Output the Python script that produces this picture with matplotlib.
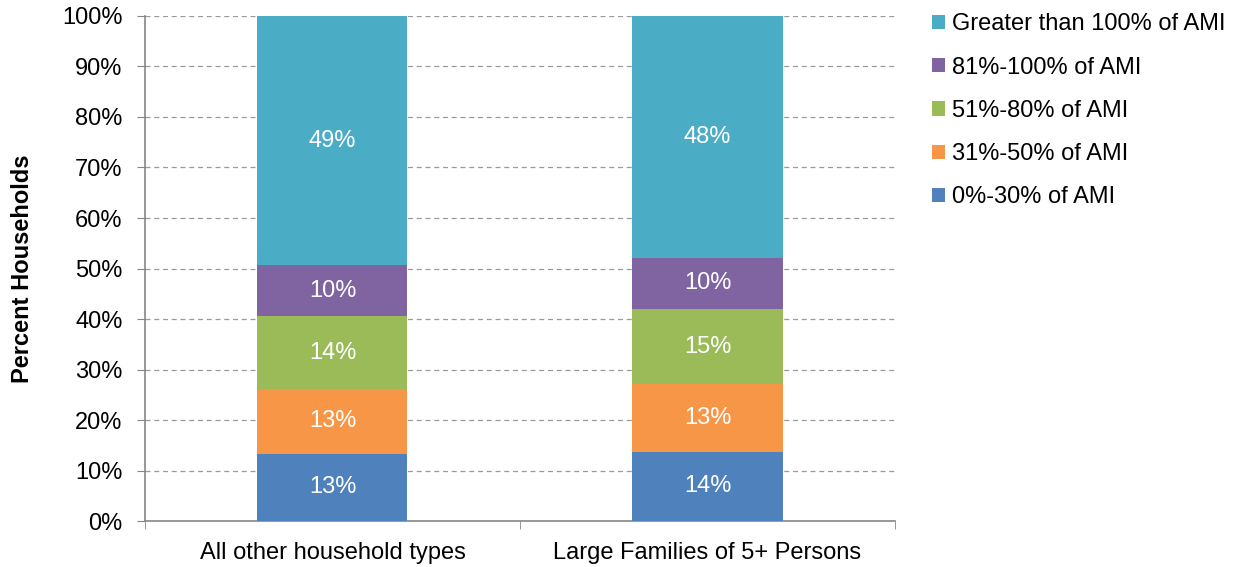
import matplotlib.pyplot as plt
import numpy as np

plt.rcParams['font.family'] = ['Liberation Sans', 'DejaVu Sans']

categories = ["All other household types", "Large Families of 5+ Persons"]
series_names = ["0%-30% of AMI", "31%-50% of AMI", "51%-80% of AMI",
                "81%-100% of AMI", "Greater than 100% of AMI"]
values = [
    [13.3, 13.7],
    [12.9, 13.4],
    [14.3, 14.9],
    [10.1, 10.1],
    [49.4, 47.9],
]
labels = [
    ["13%", "14%"],
    ["13%", "13%"],
    ["14%", "15%"],
    ["10%", "10%"],
    ["49%", "48%"],
]
colors = ["#4F81BD", "#F79646", "#9BBB59", "#8064A2", "#4BACC6"]

FS = 17

fig = plt.figure(figsize=(12.41, 5.67), dpi=100)
ax = fig.add_axes([0.1168, 0.0811, 0.6044, 0.8907])

x = np.arange(len(categories))
bottom = np.zeros(len(categories))
handles = []
for name, vals, labs, col in zip(series_names, values, labels, colors):
    vals = np.array(vals)
    b = ax.bar(x, vals, width=0.4, bottom=bottom, color=col, label=name, zorder=3)
    handles.append(b)
    for xi, v, bt, lab in zip(x, vals, bottom, labs):
        ax.text(xi, bt + v / 2, lab, ha='center', va='center', color='white',
                fontsize=FS, zorder=4)
    bottom += vals

ax.set_xlim(-0.5, 1.5)
ax.set_ylim(0, 100)
ax.set_yticks(range(0, 101, 10))
ax.set_yticklabels([f"{t}%" for t in range(0, 101, 10)], fontsize=FS)
ax.set_xticks(x)
ax.set_xticklabels(categories, fontsize=FS)
ax.set_xticks([-0.5, 0.5, 1.5], minor=True)
ax.tick_params(axis='x', which='major', length=0, pad=15)
ax.tick_params(axis='x', which='minor', length=6, color='#868686', direction='out')
ax.tick_params(axis='y', length=6, color='#868686', direction='out', pad=10)
ax.yaxis.grid(True, linestyle=(0, (4, 3)), color='#9A9A9A', linewidth=0.9, zorder=0)

for s in ['top', 'right']:
    ax.spines[s].set_visible(False)
for s in ['left', 'bottom']:
    ax.spines[s].set_color('#868686')
    ax.spines[s].set_linewidth(1.2)

ax.set_ylabel("Percent Households", fontsize=FS, fontweight='bold', labelpad=20)

leg = ax.legend(handles[::-1], series_names[::-1], loc='upper left',
                bbox_to_anchor=(1.037, 1.024), frameon=False, fontsize=FS,
                handlelength=0.55, handleheight=0.55, handletextpad=0.3,
                labelspacing=0.9, borderaxespad=0)

fig.savefig("out.png", dpi=100)
